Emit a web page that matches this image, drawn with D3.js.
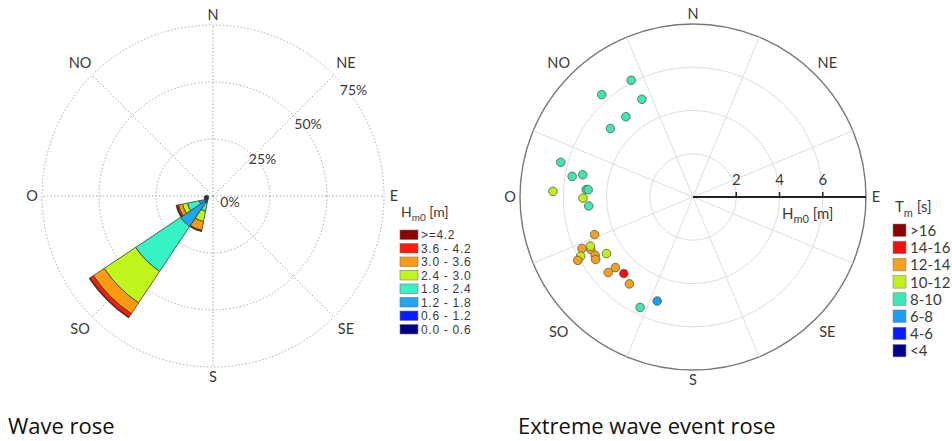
<!DOCTYPE html>
<html>
<head>
<meta charset="utf-8">
<script src="https://cdn.jsdelivr.net/npm/d3@7"></script>
<style>
body { margin: 0; background: #fff; }
text { font-family: Lato, "Open Sans", sans-serif; fill: #3a3a3a; }
.title { font-family: "Open Sans", sans-serif; fill: #111; }
.small { font-family: "Liberation Sans", sans-serif; }
</style>
</head>
<body>
<div id="svg_chart"></div>
<script>
///////////// data //////////////
var compass_labels = ['N', 'NE', 'E', 'SE', 'S', 'SO', 'O', 'NO'];
var compass_angles = [0, 45, 90, 135, 180, 225, 270, 315];

// wave rose: frequency (%) per direction and per Hm0 class
var hs_classes = ['0.0 - 0.6', '0.6 - 1.2', '1.2 - 1.8', '1.8 - 2.4', '2.4 - 3.0', '3.0 - 3.6', '3.6 - 4.2', '>=4.2'];
var hs_colors = ['#00008b', '#0a1cff', '#1ea6f5', '#36f2c4', '#c0f51e', '#ff9a10', '#ff1a0a', '#8b0000'];
var rose_dirs = [202.5, 225, 247.5, 270, 292.5, 315, 337.5, 0];
var rose_freq = [
  [0.3, 0.4, 1.1, 3.7, 4.6, 3.9, 0.4, 0.1],
  [0.8, 0.9, 12.8, 23.7, 16.6, 5.7, 1.8, 0.4],
  [0.3, 0.5, 3.1, 5.3, 2.2, 1.8, 0.6, 0.5],
  [1.0, 0.5, 0, 0, 0, 0, 0, 0],
  [1.2, 0.6, 0, 0, 0, 0, 0, 0],
  [1.3, 0.6, 0, 0, 0, 0, 0, 0],
  [1.2, 0.5, 0, 0, 0, 0, 0, 0],
  [0.9, 0.4, 0, 0, 0, 0, 0, 0]
];
var rose_ticks = [25, 50, 75];

// extreme wave events: direction (deg), Hm0 (m), Tm class index
var tm_classes = ['<4', '4-6', '6-8', '8-10', '10-12', '12-14', '14-16', '>16'];
var tm_colors = ['#00008b', '#0a1cff', '#1e9ef0', '#3ee6b6', '#bff01e', '#f5a021', '#f01010', '#8b0000'];
var event_dir = [332.1, 318.3, 332.4, 320.1, 309.7, 284.7, 279.7, 281.4, 272.3, 274.0, 274.0, 269.4, 265.1,
  249.1, 242.9, 244.4, 245.1, 242.2, 241.2, 239.2, 237.3, 236.8, 227.7, 228.3, 222.1, 216.2, 199.0, 205.6];
var event_hm0 = [6.11, 6.34, 5.10, 4.84, 4.96, 6.32, 5.67, 5.20, 6.48, 4.95, 4.86, 5.09, 4.84,
  4.87, 5.31, 5.26, 5.66, 5.87, 6.08, 5.27, 5.35, 4.78, 4.85, 5.25, 4.77, 4.98, 5.09, 5.66];
var event_tm = [3, 3, 3, 3, 3, 3, 3, 3, 4, 3, 3, 4, 3,
  5, 5, 4, 5, 4, 5, 5, 5, 4, 5, 5, 6, 5, 2, 3];
var hm0_ticks = [2, 4, 6];
var hm0_rings = [2, 4, 6, 8];

///////////// canvas //////////////
var svg = d3.select('#svg_chart').append('svg')
  .attr('width', 952)
  .attr('height', 441);

var rad = Math.PI / 180;
function px(angle, r) { return Math.sin(angle * rad) * r; }
function py(angle, r) { return -Math.cos(angle * rad) * r; }

function draw_compass(g, R) {
  g.selectAll('text.dir').data(compass_labels).enter().append('text')
    .attr('class', 'dir')
    .attr('x', (d, i) => px(compass_angles[i], compass_angles[i] % 90 ? R + 17 : R + 10))
    .attr('y', (d, i) => py(compass_angles[i], compass_angles[i] % 90 ? R + 17 : R + 10))
    .attr('dy', '0.36em')
    .attr('text-anchor', 'middle')
    .attr('font-size', 14.5)
    .text(d => d);
}

///////////// wave rose //////////////
var rose_R = 171;
var rose = svg.append('g').attr('transform', 'translate(213,196)');
var rose_r = d3.scaleLinear().domain([0, 75]).range([0, rose_R]);

rose.selectAll('circle.grid').data(rose_ticks).enter().append('circle')
  .attr('r', d => rose_r(d))
  .attr('fill', 'none')
  .attr('stroke', '#aaa')
  .attr('stroke-dasharray', '1.5,2');
rose.selectAll('line.spoke').data(compass_angles).enter().append('line')
  .attr('x2', d => px(d, rose_R))
  .attr('y2', d => py(d, rose_R))
  .attr('stroke', '#aaa')
  .attr('stroke-dasharray', '1.5,2');
draw_compass(rose, rose_R);

// percentage labels next to the NE spoke
rose.selectAll('text.pct').data([0].concat(rose_ticks)).enter().append('text')
  .attr('x', d => d ? px(53, rose_r(d) + 5) : 17)
  .attr('y', d => d ? py(53, rose_r(d) + 5) : 6)
  .attr('dy', '0.36em')
  .attr('text-anchor', 'middle')
  .attr('font-size', 14)
  .text(d => d + '%');

// stacked wedges
var arc = d3.arc();
var wedges = [];
rose_dirs.forEach(function(dir, i) {
  var cum = 0;
  rose_freq[i].forEach(function(v, k) {
    if (v <= 0) return;
    wedges.push({dir: dir, k: k, r0: cum, r1: cum + v});
    cum += v;
  });
});
var bars = svg.append('g').attr('transform', 'translate(208,199)');
bars.selectAll('path').data(wedges).enter().append('path')
  .attr('d', d => arc({
    innerRadius: rose_r(d.r0),
    outerRadius: rose_r(d.r1),
    startAngle: (d.dir - 11.25) * rad,
    endAngle: (d.dir + 11.25) * rad
  }))
  .attr('fill', d => hs_colors[d.k])
  .attr('stroke', '#3a3a2a')
  .attr('stroke-width', 0.8);

// legend
var leg1 = svg.append('g').attr('transform', 'translate(400,0)');
var t1 = leg1.append('text').attr('x', 1).attr('y', 217).attr('font-size', 14);
t1.append('tspan').text('H');
t1.append('tspan').attr('dy', 4).attr('font-size', 10).text('m0');
t1.append('tspan').attr('dy', -4).text(' [m]');
var hs_rev = hs_classes.slice().reverse();
leg1.selectAll('rect').data(hs_rev).enter().append('rect')
  .attr('x', 0)
  .attr('y', (d, i) => 230 + i * 13.5)
  .attr('width', 18)
  .attr('height', 9.5)
  .attr('fill', (d, i) => hs_colors[hs_colors.length - 1 - i])
  .attr('stroke', '#777')
  .attr('stroke-width', 0.6);
leg1.selectAll('text.lab').data(hs_rev).enter().append('text')
  .attr('class', 'lab small')
  .attr('x', 21)
  .attr('y', (d, i) => 235 + i * 13.5)
  .attr('dy', '0.36em')
  .attr('font-size', 12)
  .attr('letter-spacing', 0.7)
  .text(d => d);

///////////// extreme wave event rose //////////////
var ev_R = 173;
var ev = svg.append('g').attr('transform', 'translate(693,197)');
var ev_r = d3.scaleLinear().domain([0, 8]).range([0, ev_R]);

ev.selectAll('circle.grid').data(hm0_rings).enter().append('circle')
  .attr('r', d => ev_r(d))
  .attr('fill', 'none')
  .attr('stroke', d => d === 8 ? '#777' : '#ddd')
  .attr('stroke-width', d => d === 8 ? 1.4 : 1);
ev.selectAll('line.spoke').data(compass_angles.map(a => a + 22.5)).enter().append('line')
  .attr('x2', d => px(d, ev_R))
  .attr('y2', d => py(d, ev_R))
  .attr('stroke', '#ddd');
draw_compass(ev, ev_R);

// radial Hm0 axis towards E
ev.append('line')
  .attr('x2', ev_r(8))
  .attr('stroke', '#222')
  .attr('stroke-width', 2);
ev.selectAll('line.tick').data(hm0_ticks).enter().append('line')
  .attr('x1', d => ev_r(d)).attr('x2', d => ev_r(d))
  .attr('y1', 0).attr('y2', -5)
  .attr('stroke', '#222')
  .attr('stroke-width', 1.5);
ev.selectAll('text.tick').data(hm0_ticks).enter().append('text')
  .attr('x', d => ev_r(d))
  .attr('y', -12)
  .attr('text-anchor', 'middle')
  .attr('font-size', 15)
  .text(d => d);
var t2 = ev.append('text').attr('x', 89).attr('y', 22).attr('font-size', 15);
t2.append('tspan').text('H');
t2.append('tspan').attr('dy', 4).attr('font-size', 11).text('m0');
t2.append('tspan').attr('dy', -4).text(' [m]');

// event points
ev.selectAll('circle.pt').data(event_dir).enter().append('circle')
  .attr('cx', (d, i) => px(d, ev_r(event_hm0[i])))
  .attr('cy', (d, i) => py(d, ev_r(event_hm0[i])))
  .attr('r', 4.3)
  .attr('fill', (d, i) => tm_colors[event_tm[i]])
  .attr('stroke', '#5a5a4a')
  .attr('stroke-width', 0.8);

// legend
var leg2 = svg.append('g').attr('transform', 'translate(893,0)');
var t3 = leg2.append('text').attr('x', 2).attr('y', 212).attr('font-size', 15);
t3.append('tspan').text('T');
t3.append('tspan').attr('dy', 5).attr('font-size', 11).text('m');
t3.append('tspan').attr('dy', -5).text(' [s]');
var tm_rev = tm_classes.slice().reverse();
leg2.selectAll('rect').data(tm_rev).enter().append('rect')
  .attr('x', 0)
  .attr('y', (d, i) => 224 + i * 17.2)
  .attr('width', 13)
  .attr('height', 12.5)
  .attr('fill', (d, i) => tm_colors[tm_colors.length - 1 - i])
  .attr('stroke', '#888')
  .attr('stroke-width', 0.6);
leg2.selectAll('text.lab').data(tm_rev).enter().append('text')
  .attr('class', 'lab')
  .attr('x', 17)
  .attr('y', (d, i) => 230.5 + i * 17.2)
  .attr('dy', '0.36em')
  .attr('font-size', 15)
  .text(d => d);

///////////// titles //////////////
svg.append('text').attr('class', 'title')
  .attr('x', 8).attr('y', 434).attr('font-size', 22)
  .text('Wave rose');
svg.append('text').attr('class', 'title')
  .attr('x', 518).attr('y', 434).attr('font-size', 22)
  .text('Extreme wave event rose');
</script>
</body>
</html>
